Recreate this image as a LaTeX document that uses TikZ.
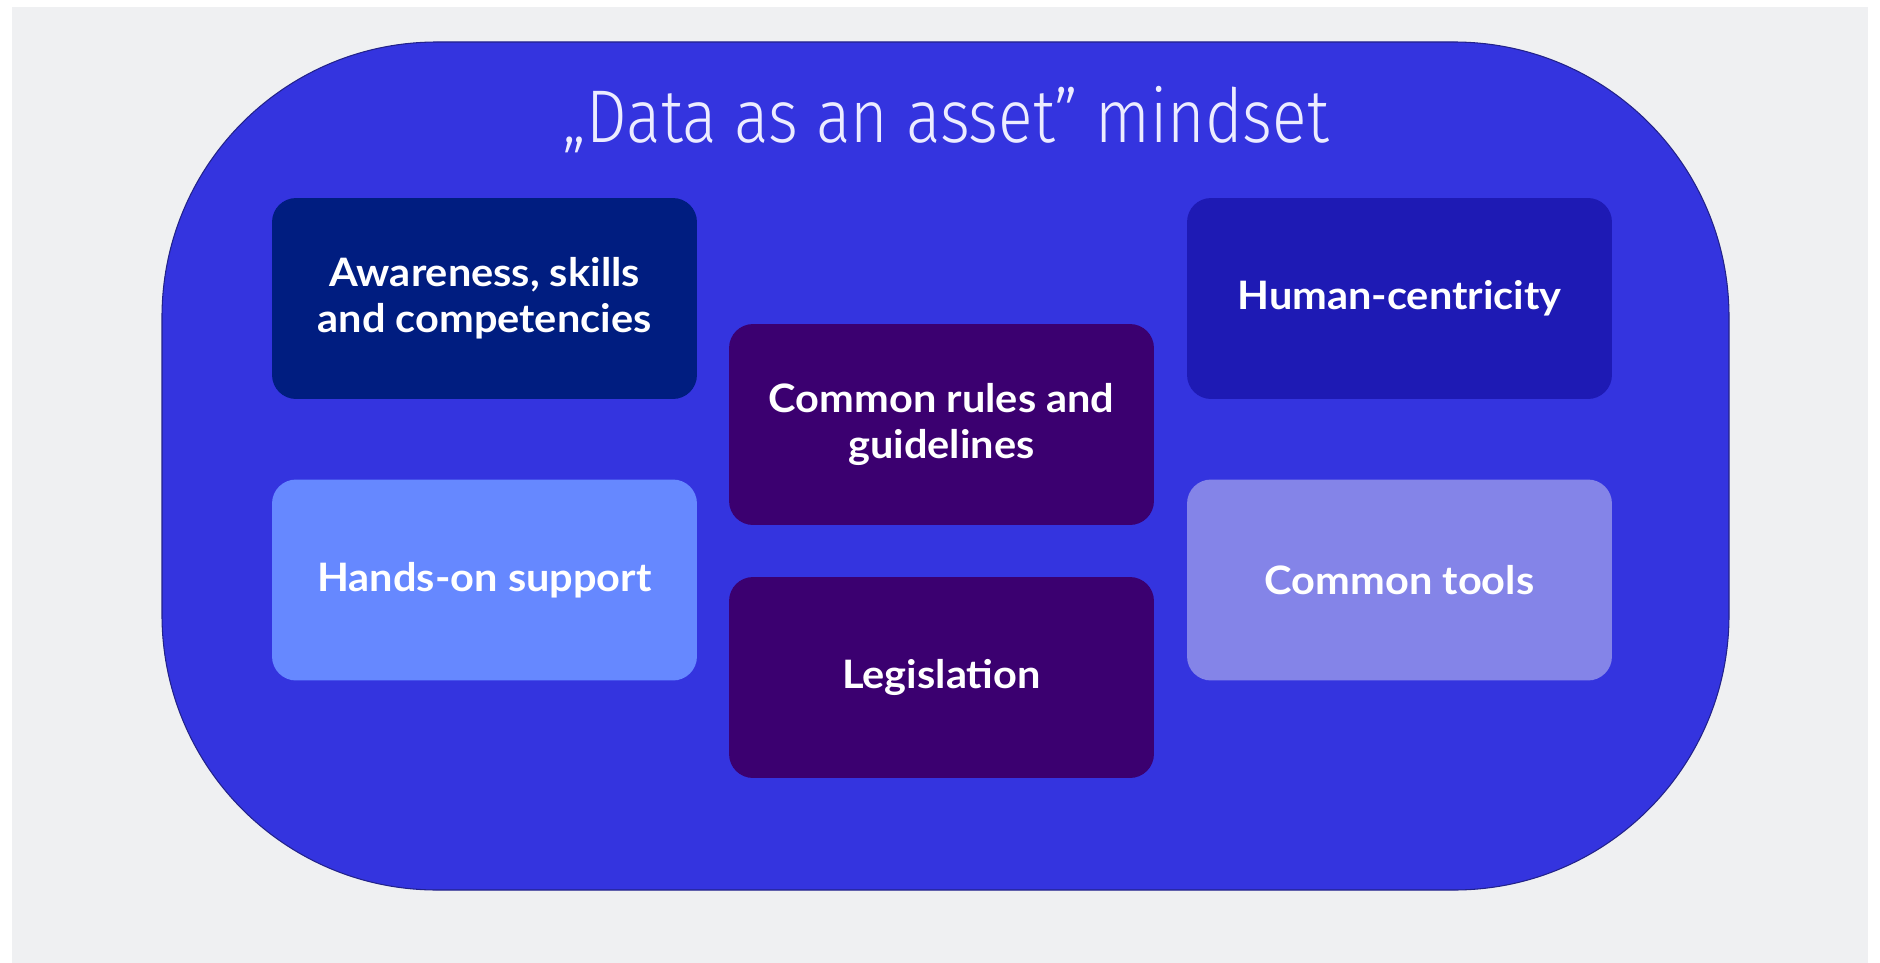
\documentclass[tikz,border=0pt]{standalone}
\usepackage{fontspec}
\setmainfont[FakeStretch=1.06]{Lato}
\newfontfamily\titlefont[FakeStretch=0.86]{Fira Sans Light}
\definecolor{pagegray}{HTML}{EFF0F2}
\definecolor{mindblue}{HTML}{3434DF}
\definecolor{mindedge}{HTML}{22228A}
\definecolor{navybox}{HTML}{001D80}
\definecolor{skybox}{HTML}{6688FF}
\definecolor{plumbox}{HTML}{3B0070}
\definecolor{inkbox}{HTML}{1E1AB4}
\definecolor{lilacbox}{HTML}{8484E8}
\definecolor{titlewhite}{HTML}{ECECFF}
\begin{document}
\begin{tikzpicture}[x=0.02cm,y=-0.02cm,
    pillar/.style={rounded corners=0.48cm, minimum width=8.5cm, minimum height=4.02cm,
        text=white, align=center, inner sep=0pt,
        font=\fontsize{22.3}{26}\selectfont\bfseries}]
    \useasboundingbox (0,0) rectangle (1880,963);
    %Background%
    \fill[white] (-10,-10) rectangle (1890,975);
    \fill[pagegray] (12,7) rectangle (1868,975);

    % Mindset shape %
    \draw[mindedge, fill=mindblue, line width=0.6pt, rounded corners=5.5cm] (162,42) rectangle (1729,890);
    \node[text=titlewhite, font=\titlefont\fontsize{42.5}{48}\selectfont] (title) at (946,120) {„Data as an asset” mindset};

    % Pillars %
    \node[pillar, fill=navybox] (aware) at (484.5,298.5) {Awareness, skills\\and competencies};
    \node[pillar, fill=skybox] (hands) at (484.5,580) {Hands-on support};
    \node[pillar, fill=plumbox] (rules) at (941.5,424.5) {Common rules and\\guidelines};
    \node[pillar, fill=plumbox] (legis) at (941.5,677.5) {Legislation};
    \node[pillar, fill=inkbox] (human) at (1399.5,298.5) {Human-centricity};
    \node[pillar, fill=lilacbox] (tools) at (1399.5,580) {Common tools};
\end{tikzpicture}
\end{document}
